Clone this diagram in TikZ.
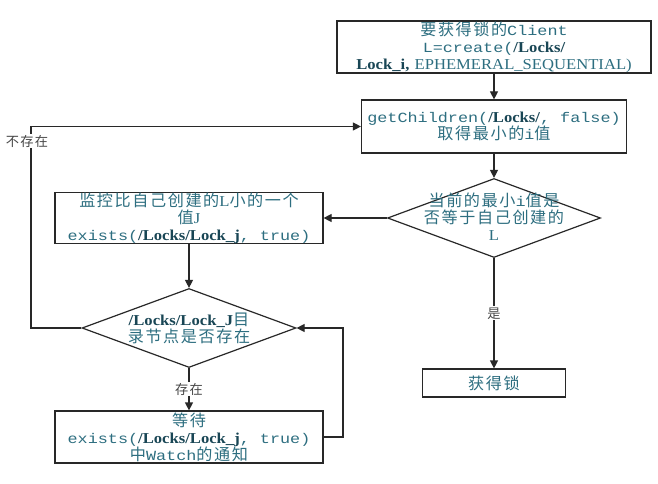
\documentclass[tikz,border=0pt]{standalone}
\usepackage{fontspec}
\setmainfont{Noto Sans CJK SC}[Scale=1.15,LetterSpace=10]
\newfontfamily\codef{Liberation Mono}[FakeStretch=1.2]
\newfontfamily\serf{Liberation Serif}[FakeStretch=1.1,Scale=1.08]
\usetikzlibrary{shapes.geometric,arrows.meta}
\definecolor{txt}{RGB}{45,110,128}
\definecolor{boldc}{RGB}{25,70,85}
\definecolor{lblc}{RGB}{70,70,70}
\definecolor{ln}{RGB}{40,40,40}
\newcommand\lk[1]{{\serf\bfseries\color{boldc}#1}}
\newcommand\cd[1]{{\codef #1}}
\begin{document}
\begin{tikzpicture}[x=1pt,y=-1pt,
  box/.style={draw=ln, line width=1.2pt, rectangle, inner sep=0pt, align=center,
    text=txt, font=\fontsize{14}{17}\selectfont},
  dia/.style={draw=ln, line width=1.2pt, diamond, inner sep=0pt,
    minimum width=213pt, minimum height=79pt},
  diatext/.style={align=center, text=txt, font=\fontsize{14}{17}\selectfont, inner sep=0pt},
  arr/.style={draw=ln, line width=1.2pt, -{Triangle[length=8pt,width=8pt]}},
  lbl/.style={fill=white, text=lblc, inner sep=1pt, font=\fontsize{11.5}{14}\selectfont}]
\useasboundingbox[fill=white] (0,0) rectangle (658,484);

\node[box, minimum width=314pt, minimum height=52pt] (b1) at (494,47)
  {要获得锁的\cd{Client}\\ \cd{L=create(}\lk{/Locks/}\\ \lk{Lock\_i,} {\serf EPHEMERAL\_SEQUENTIAL)}};
\node[box, minimum width=265pt, minimum height=53pt] (b2) at (494,126.5)
  {\cd{getChildren(}\lk{/Locks/}\cd{, false)}\\ 取得最小的\cd{i}值};
\node[dia] (d1) at (494,218) {};
\node[diatext] (d1t) at (494,217) {当前的最小\cd{i}值是\\ 否等于自己创建的\\ {\serf L}};
\node[box, minimum width=268pt, minimum height=51pt] (b3) at (189,218)
  {监控比自己创建的{\serf L}小的一个\\ 值{\serf J}\\ \cd{exists(}\lk{/Locks/Lock\_j}\cd{, true)}};
\node[dia, minimum width=214pt] (d2) at (189,328) {};
\node[diatext] (d2t) at (189,328) {\lk{/Locks/Lock\_J}目\\ 录节点是否存在};
\node[box, minimum width=268pt, minimum height=52pt] (b4) at (189,437)
  {等待\\ \cd{exists(}\lk{/Locks/Lock\_j}\cd{, true)}\\ 中\cd{Watch}的通知};
\node[box, minimum width=143pt, minimum height=28pt] (b5) at (494,383) {获得锁};

\coordinate (lx) at (31,328);
\coordinate (rx) at (343,437);

\draw[arr] (b1) -- (b2);
\draw[arr] (b2) -- (d1);
\draw[arr] (d1.west) -- (b3.east);
\draw[arr] (b3) -- (d2.north);
\draw[arr] (d2.south) -- node[lbl] {存在} (b4);
\draw[arr] (d1.south) -- node[lbl] {是} (b5);
\draw[arr] (d2.west) -- (lx) |- (b2.west);
\draw[arr] (b4.east) -- (rx) |- (d2.east);
\node[lbl] (nl) at (27,141) {不存在};
\end{tikzpicture}
\end{document}
